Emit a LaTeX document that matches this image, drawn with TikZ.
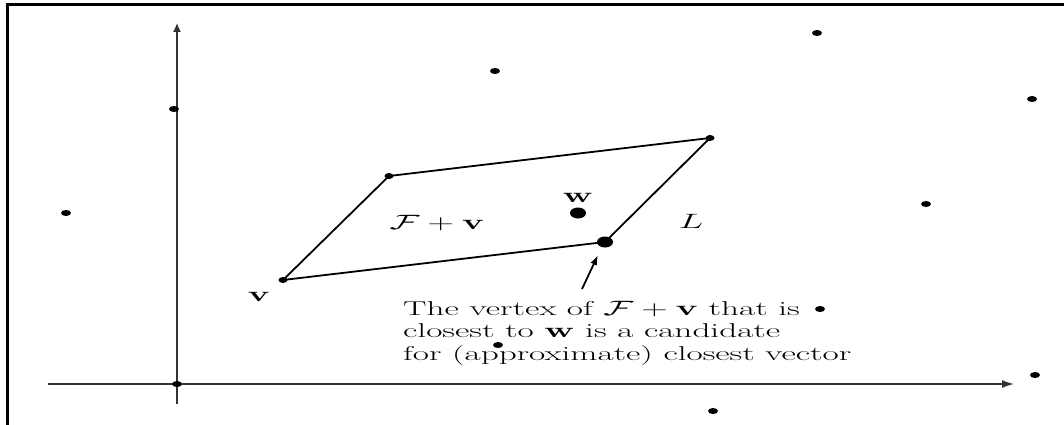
\documentclass[tikz,border=0pt]{standalone}
\usetikzlibrary{arrows.meta}
\newcommand{\widetxt}[1]{\scalebox{1.76}[1]{#1}}
\begin{document}
\begin{tikzpicture}[x=1pt,y=-1pt,
  dot/.style={fill=black},
  axis/.style={line width=1.3pt,draw=black!80},
  edge/.style={line width=1.8pt},
  lbl/.style={inner sep=0pt,font=\fontsize{20}{22.5}\selectfont}]
\useasboundingbox (0,0) rectangle (1064,425);
\draw[line width=3pt] (7.5,425) -- (7.5,5) -- (1064,5);
% axes
\coordinate (o) at (177,384);
\coordinate (xl) at (48,384);
\coordinate (xr) at (1014,384);
\coordinate (yb) at (177,404);
\coordinate (yt) at (177,23);
\draw[axis,-{Latex[length=12pt,width=8pt]}] (xl) -- (xr);
\draw[axis,-{Latex[length=9pt,width=8pt]}] (yb) -- (yt);
% parallelogram
\coordinate (v) at (283,280);
\coordinate (a) at (389,176);
\coordinate (b) at (710,138);
\coordinate (c) at (605,242);
\draw[edge,line join=round] (v) -- (a) -- (b) -- (c) -- cycle;
\foreach \p in {v,a,b}{\fill[dot] (\p) ellipse (4.5 and 3);}
\fill[dot] (c) ellipse (8 and 5.5);
\coordinate (w) at (578,213);
\fill[dot] (w) ellipse (8 and 5.5);
\fill[dot] (o) ellipse (5 and 3);
% lattice points
\foreach \x/\y in {174/109,66/213,495/71,817/33,1032/99,926/204,1035/375,713/411,820/309,498/345}
  {\fill[dot] (\x,\y) ellipse (5 and 3);}
% labels
\node[lbl] (vl) at (259,297) {\widetxt{$\mathbf{v}$}};
\node[lbl] (wl) at (578,198) {\widetxt{$\mathbf{w}$}};
\node[lbl] (fl) at (437,223) {\widetxt{$\mathcal{F}+\mathbf{v}$}};
\node[lbl] (ll) at (691,221) {\widetxt{$L$}};
% annotation
\node[lbl,anchor=base west] (txt) at (403,315) {\widetxt{\begin{tabular}[t]{@{}l@{}}The vertex of $\mathcal{F}+\mathbf{v}$ that is\\
closest to $\mathbf{w}$ is a candidate\\
for (approximate) closest vector\end{tabular}}};
\coordinate (at) at (582,289);
\coordinate (ah) at (598,255);
\draw[line width=1.8pt,-{Latex[length=10pt,width=7pt]}] (at) -- (ah);
\end{tikzpicture}
\end{document}
